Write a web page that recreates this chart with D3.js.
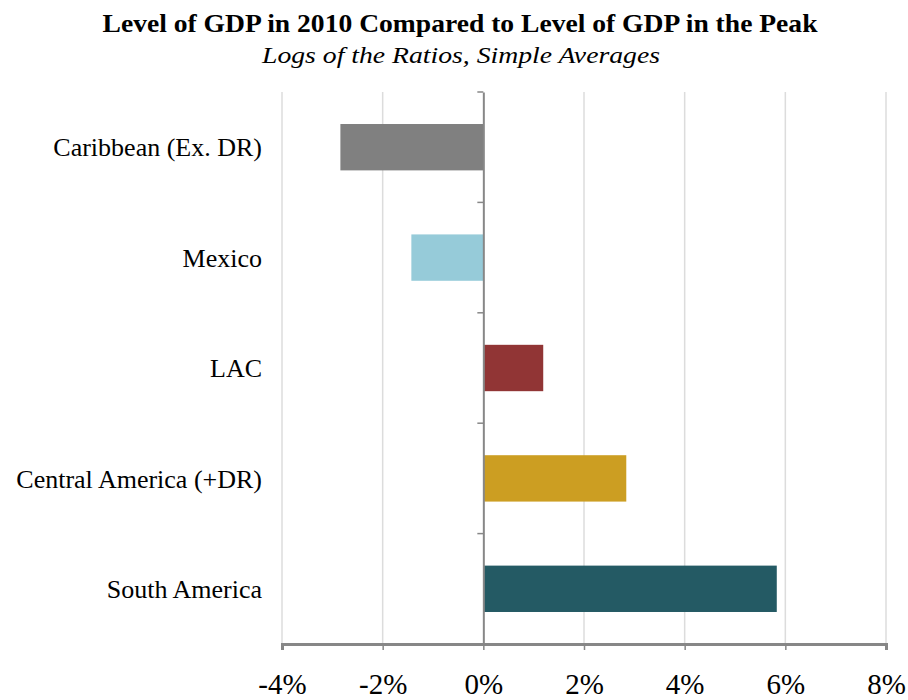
<!DOCTYPE html>
<html>
<head>
<meta charset="utf-8">
<script src="https://d3js.org/d3.v7.min.js"></script>
<style>
  body { margin: 0; background: #fff; }
  svg text { font-family: "Liberation Serif", "Times New Roman", serif; fill: #000; }
</style>
</head>
<body>
<svg id="chart" width="908" height="700"></svg>
<script>
// data
const regions = ["Caribbean (Ex. DR)", "Mexico", "LAC", "Central America (+DR)", "South America"];
const ratios = [-2.84, -1.43, 1.19, 2.84, 5.83];
const colors = ["#808080", "#96cbd9", "#913535", "#cc9e22", "#245a64"];
const xTicks = [-4, -2, 0, 2, 4, 6, 8];

const title = "Level of GDP in 2010 Compared to Level of GDP in the Peak";
const subtitle = "Logs of the Ratios, Simple Averages";

const svg = d3.select("#chart");
const margin = { top: 92, right: 22, bottom: 56, left: 282 };
const width = 908, height = 700;

const x = d3.scaleLinear().domain([-4, 8]).range([margin.left, width - margin.right]);
const y = d3.scaleBand().domain(regions).range([margin.top, height - margin.bottom]).paddingInner(0.58).paddingOuter(0.29);

// titles (the original font is wider than Liberation Serif, so stretch to width)
svg.append("text").attr("x", 460).attr("y", 32).attr("text-anchor", "middle")
  .attr("font-weight", "bold").attr("font-size", 26)
  .attr("textLength", 715).attr("lengthAdjust", "spacingAndGlyphs").text(title);
svg.append("text").attr("x", 461).attr("y", 63).attr("text-anchor", "middle")
  .attr("font-style", "italic").attr("font-size", 24)
  .attr("textLength", 398).attr("lengthAdjust", "spacingAndGlyphs").text(subtitle);

// vertical gridlines
svg.append("g").selectAll("line")
  .data(xTicks.filter(d => d !== 0))
  .join("line")
  .attr("x1", d => x(d)).attr("x2", d => x(d))
  .attr("y1", margin.top).attr("y2", height - margin.bottom)
  .attr("stroke", "#dcdcdc").attr("stroke-width", 1.5);

// bars
svg.append("g").selectAll("rect")
  .data(regions)
  .join("rect")
  .attr("x", (d, i) => x(Math.min(0, ratios[i])))
  .attr("width", (d, i) => Math.abs(x(ratios[i]) - x(0)))
  .attr("y", d => y(d))
  .attr("height", y.bandwidth())
  .attr("fill", (d, i) => colors[i]);

// category axis at zero
const yAxis = svg.append("g")
  .attr("transform", `translate(${x(0)},0)`)
  .call(d3.axisLeft(y).tickSize(0).tickFormat(""));
yAxis.select(".domain").attr("stroke", "#878787").attr("stroke-width", 2);
// ticks between categories
const bounds = regions.map(d => y(d) - y.step() * y.paddingInner() / 2);
yAxis.selectAll(".sep").data(bounds).join("line").attr("class", "sep")
  .attr("x1", -6).attr("x2", 0).attr("y1", d => d).attr("y2", d => d)
  .attr("stroke", "#878787").attr("stroke-width", 1.5);

// category labels
svg.append("g").selectAll("text")
  .data(regions)
  .join("text")
  .attr("x", 262)
  .attr("y", d => y(d) + y.bandwidth() / 2)
  .attr("dy", "0.35em")
  .attr("text-anchor", "end")
  .attr("font-size", 26)
  .text(d => d);

// x axis
const xAxis = svg.append("g")
  .attr("transform", `translate(0,${height - margin.bottom})`)
  .call(d3.axisBottom(x).tickValues(xTicks).tickSize(6).tickPadding(23).tickFormat(d => d + "%"));
xAxis.select(".domain").attr("stroke", "#878787").attr("stroke-width", 3);
xAxis.selectAll(".tick line").attr("stroke", "#878787").attr("stroke-width", 1.5);
xAxis.selectAll(".tick text").attr("font-size", 29).attr("font-family", "Liberation Serif, serif").attr("fill", "#000");
</script>
</body>
</html>
